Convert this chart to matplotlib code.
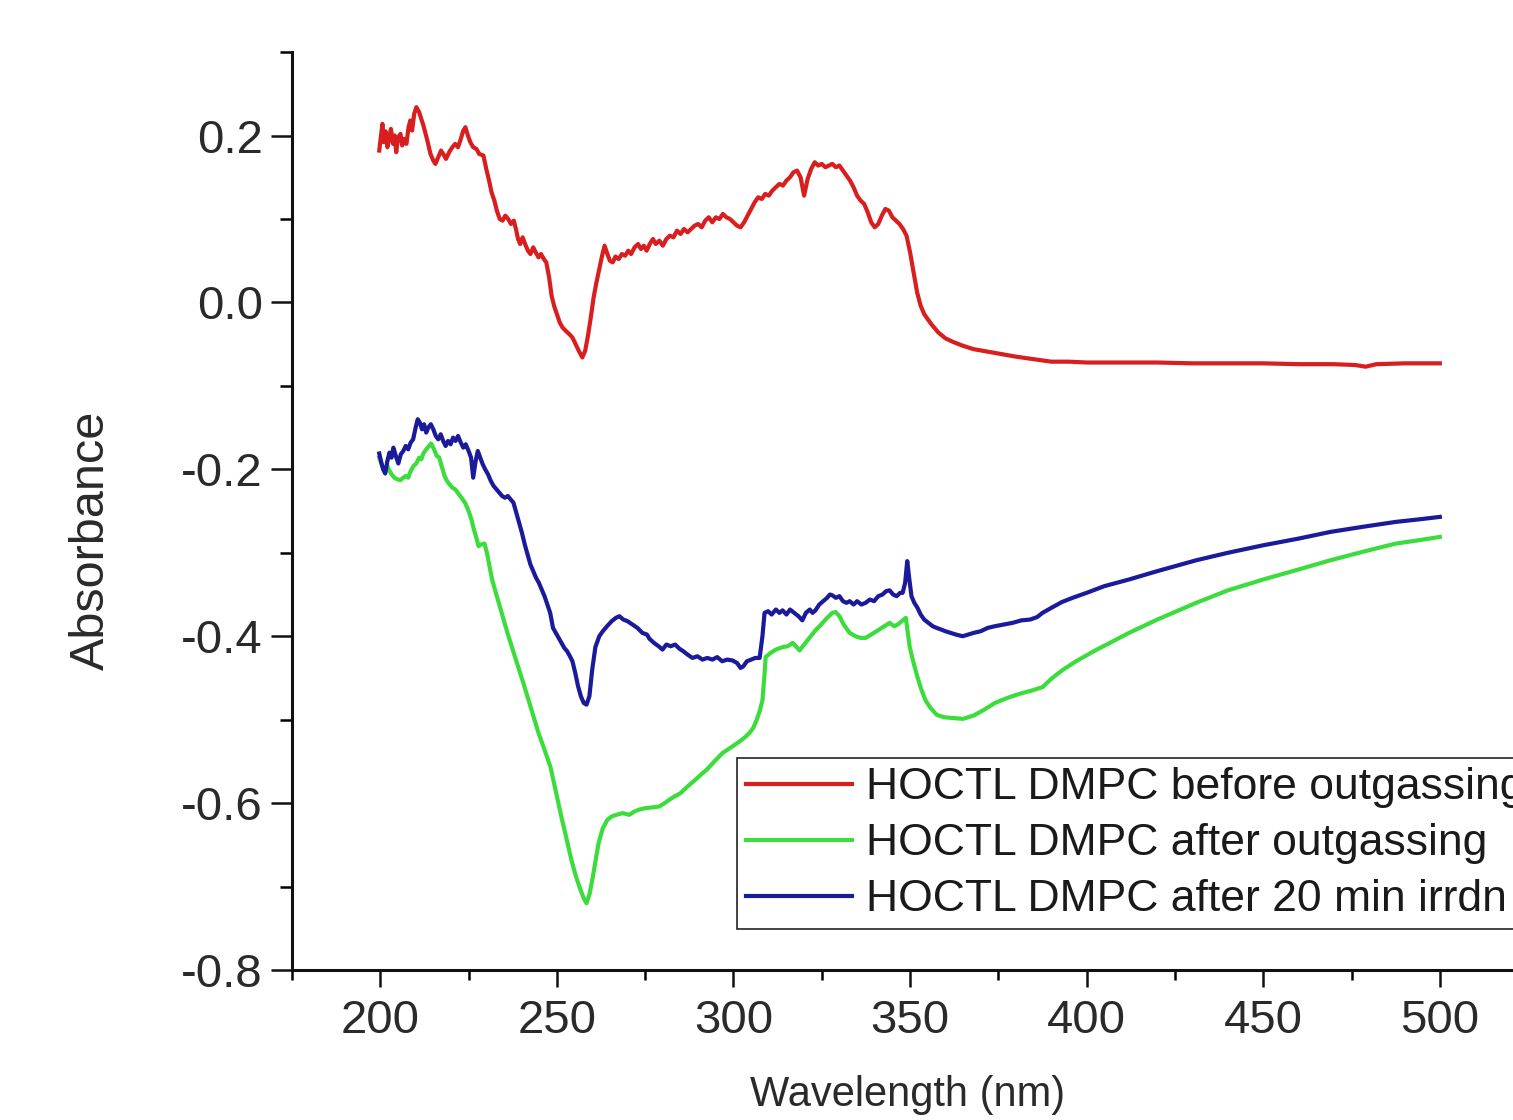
import matplotlib
matplotlib.use("Agg")
import matplotlib.pyplot as plt
from matplotlib.ticker import MultipleLocator

plt.rcParams['font.family'] = ['Liberation Sans', 'DejaVu Sans']

# ---------------- data ----------------
red_wl = [199.7, 200.2, 200.6, 201.0, 201.5, 202.0, 202.5, 203.0, 203.6, 204.1, 204.5, 205.0,
          205.7, 206.2, 206.8, 207.4, 208.0, 208.5, 209.0, 209.6, 210.2, 211.0, 211.6, 212.2,
          213.2, 214.2, 215.0, 215.6, 216.4, 217.2, 217.8, 218.6, 219.5, 220.4, 221.2, 222.0,
          222.8, 223.5, 224.1, 224.8, 225.5, 226.3, 227.2, 228.0, 229.2, 230.0, 230.8, 231.5,
          232.3, 233.0, 233.8, 234.6, 235.4, 236.2, 237.0, 237.8, 238.4, 239.0, 239.6, 240.3,
          241.0, 241.8, 242.5, 243.3, 244.0, 244.8, 245.5, 246.3, 247.0, 247.8, 248.5, 249.2,
          250.0, 250.8, 251.6, 252.5, 253.5, 254.4, 255.3, 256.2, 257.2, 258.0, 258.8, 259.6,
          260.4, 261.2, 262.0, 262.8, 263.5, 264.3, 265.0, 265.8, 266.6, 267.5, 268.4, 269.3,
          270.2, 271.0, 272.0, 273.0, 273.8, 274.6, 275.4, 276.3, 277.2, 278.0, 279.0, 280.0,
          281.0, 282.0, 283.0, 284.0, 285.0, 286.0, 287.0, 288.0, 289.0, 290.0, 291.0, 292.0,
          293.0, 294.0, 295.0, 296.0, 297.0, 298.0, 299.0, 300.0, 301.0, 302.0, 303.0, 304.0,
          305.0, 306.0, 307.0, 308.0, 309.0, 310.0, 311.0, 312.0, 313.0, 314.0, 315.0, 316.0,
          317.0, 318.0, 319.0, 320.0, 321.0, 322.0, 323.0, 324.0, 325.0, 326.0, 327.0, 328.0,
          329.0, 330.0, 331.0, 332.0, 333.0, 334.0, 335.0, 336.0, 337.0, 338.0, 339.0, 340.0,
          341.0, 342.0, 343.0, 344.0, 345.0, 346.0, 347.0, 348.0, 349.0, 350.0, 351.0, 352.0,
          353.0, 354.0, 355.0, 356.0, 358.0, 360.0, 362.0, 365.0, 368.0, 372.0, 376.0, 380.0,
          385.0, 390.0, 395.0, 400.0, 410.0, 420.0, 430.0, 440.0, 450.0, 460.0, 470.0, 476.0,
          479.0, 482.0, 490.0, 500.0]
red_abs = [0.182, 0.200, 0.214, 0.192, 0.205, 0.186, 0.196, 0.208, 0.190, 0.200, 0.180, 0.197,
           0.202, 0.188, 0.196, 0.190, 0.210, 0.218, 0.206, 0.226, 0.234, 0.228, 0.220, 0.212,
           0.196, 0.178, 0.170, 0.166, 0.174, 0.182, 0.178, 0.172, 0.180, 0.186, 0.190, 0.186,
           0.196, 0.206, 0.210, 0.200, 0.192, 0.186, 0.184, 0.178, 0.176, 0.160, 0.146, 0.132,
           0.122, 0.110, 0.100, 0.098, 0.104, 0.100, 0.094, 0.098, 0.088, 0.076, 0.070, 0.078,
           0.070, 0.062, 0.058, 0.066, 0.060, 0.054, 0.058, 0.052, 0.048, 0.030, 0.008, -0.004,
           -0.014, -0.024, -0.030, -0.034, -0.038, -0.042, -0.050, -0.058, -0.066, -0.058, -0.040, -0.018,
           0.006, 0.024, 0.040, 0.056, 0.068, 0.058, 0.050, 0.048, 0.055, 0.052, 0.058, 0.056,
           0.062, 0.058, 0.066, 0.070, 0.064, 0.068, 0.062, 0.070, 0.076, 0.070, 0.074, 0.068,
           0.076, 0.080, 0.078, 0.086, 0.082, 0.088, 0.084, 0.088, 0.092, 0.094, 0.090, 0.098,
           0.102, 0.096, 0.102, 0.100, 0.106, 0.102, 0.100, 0.096, 0.092, 0.090, 0.096, 0.104,
           0.112, 0.120, 0.126, 0.124, 0.130, 0.128, 0.134, 0.138, 0.142, 0.140, 0.146, 0.150,
           0.156, 0.158, 0.150, 0.128, 0.148, 0.160, 0.168, 0.164, 0.166, 0.162, 0.164, 0.166,
           0.162, 0.164, 0.158, 0.152, 0.146, 0.138, 0.128, 0.122, 0.118, 0.108, 0.096, 0.090,
           0.094, 0.104, 0.112, 0.110, 0.102, 0.098, 0.094, 0.088, 0.080, 0.060, 0.036, 0.012,
           -0.004, -0.014, -0.020, -0.026, -0.036, -0.043, -0.047, -0.052, -0.056, -0.059, -0.062, -0.065,
           -0.068, -0.071, -0.071, -0.072, -0.072, -0.072, -0.073, -0.073, -0.073, -0.074, -0.074, -0.075,
           -0.077, -0.074, -0.073, -0.073]

green_wl = [199.7, 200.5, 201.3, 202.0, 202.5, 203.2, 204.0, 204.8, 205.7, 206.5, 207.2, 207.9,
            208.6, 209.4, 210.2, 211.0, 211.6, 212.2, 213.0, 213.8, 214.4, 215.2, 216.0, 216.7,
            217.5, 218.2, 218.9, 219.6, 220.4, 221.2, 222.1, 223.0, 224.1, 225.0, 225.8, 226.5,
            227.2, 227.8, 228.6, 229.5, 230.2, 231.0, 231.7, 233.0, 234.5, 236.0, 238.0, 240.5,
            242.5, 244.8, 246.5, 248.2, 249.8, 251.3, 252.8, 254.1, 255.4, 256.7, 257.6, 258.4,
            259.3, 260.1, 261.0, 261.8, 263.0, 264.3, 265.5, 266.8, 268.6, 270.5, 272.0, 273.1,
            275.0, 277.3, 279.0, 280.5, 282.5, 285.0, 287.0, 289.2, 291.0, 292.4, 294.6, 296.9,
            299.0, 301.1, 303.0, 304.5, 305.6, 306.5, 307.4, 308.2, 308.8, 309.1, 310.5, 312.0,
            313.9, 315.3, 316.8, 318.7, 320.0, 321.5, 323.2, 324.8, 326.5, 328.0, 328.9, 330.0,
            331.2, 332.9, 334.5, 336.0, 337.4, 339.0, 340.5, 342.0, 344.2, 345.5, 346.5, 347.9,
            348.8, 349.9, 351.0, 352.1, 353.2, 354.4, 355.8, 357.5, 359.5, 362.0, 365.0, 368.0,
            371.0, 374.0, 377.5, 381.0, 384.5, 387.5, 390.0, 393.0, 397.0, 402.0, 407.0, 412.0,
            420.0, 431.0, 440.0, 450.0, 460.0, 469.0, 478.0, 487.5, 494.0, 500.0]
green_abs = [-0.186, -0.196, -0.200, -0.196, -0.201, -0.206, -0.210, -0.212, -0.213, -0.210, -0.208, -0.210,
             -0.202, -0.196, -0.193, -0.186, -0.188, -0.181, -0.176, -0.172, -0.169, -0.176, -0.184, -0.186,
             -0.198, -0.208, -0.214, -0.218, -0.222, -0.224, -0.229, -0.234, -0.241, -0.250, -0.260, -0.272,
             -0.282, -0.292, -0.290, -0.289, -0.300, -0.318, -0.333, -0.352, -0.374, -0.396, -0.423, -0.456,
             -0.484, -0.516, -0.536, -0.557, -0.588, -0.617, -0.644, -0.668, -0.688, -0.704, -0.714, -0.720,
             -0.708, -0.690, -0.668, -0.648, -0.630, -0.620, -0.616, -0.614, -0.612, -0.614, -0.610, -0.608,
             -0.606, -0.605, -0.604, -0.600, -0.594, -0.588, -0.580, -0.572, -0.565, -0.560, -0.550, -0.540,
             -0.534, -0.528, -0.522, -0.516, -0.510, -0.501, -0.490, -0.477, -0.445, -0.425, -0.420, -0.416,
             -0.413, -0.412, -0.408, -0.417, -0.410, -0.402, -0.393, -0.386, -0.378, -0.372, -0.371, -0.376,
             -0.386, -0.396, -0.400, -0.402, -0.402, -0.398, -0.394, -0.390, -0.384, -0.388, -0.386, -0.381,
             -0.378, -0.413, -0.432, -0.449, -0.464, -0.477, -0.486, -0.494, -0.497, -0.498, -0.499, -0.495,
             -0.488, -0.480, -0.474, -0.469, -0.465, -0.461, -0.451, -0.441, -0.430, -0.418, -0.407, -0.396,
             -0.380, -0.360, -0.345, -0.332, -0.320, -0.309, -0.299, -0.289, -0.285, -0.281]

blue_wl = [199.7, 200.3, 200.8, 201.4, 202.0, 202.6, 203.2, 203.7, 204.4, 205.1, 205.8, 206.5,
           207.2, 207.9, 208.6, 209.3, 210.0, 210.6, 211.2, 211.8, 212.4, 213.0, 213.6, 214.3,
           215.0, 215.7, 216.4, 217.1, 217.8, 218.5, 219.2, 219.9, 220.6, 221.3, 222.0, 222.8,
           223.5, 224.2, 225.0, 225.7, 226.3, 227.0, 227.6, 228.3, 229.0, 229.7, 230.5, 231.3,
           232.1, 232.9, 233.7, 234.5, 235.3, 236.1, 236.9, 237.7, 238.5, 239.3, 240.1, 240.9,
           241.7, 242.5, 243.3, 244.1, 244.9, 245.7, 246.5, 247.3, 248.1, 248.9, 249.7, 250.5,
           251.3, 252.1, 252.9, 253.7, 254.4, 255.2, 256.0, 256.8, 257.6, 258.4, 259.2, 260.0,
           260.9, 262.0, 263.0, 264.2, 265.5, 266.7, 267.7, 268.8, 270.0, 271.4, 272.8, 274.2,
           275.5, 276.2, 277.5, 278.8, 279.9, 281.0, 282.2, 283.5, 284.7, 285.8, 287.0, 288.4,
           289.8, 291.2, 292.6, 294.0, 295.4, 296.8, 298.2, 299.7, 301.0, 302.0, 302.8, 303.8,
           305.0, 306.2, 307.4, 308.2, 308.8, 309.8, 310.8, 312.0, 313.0, 313.9, 315.0, 316.0,
           317.2, 318.4, 319.5, 320.5, 321.6, 322.4, 323.2, 324.3, 325.4, 326.5, 327.3, 328.0,
           329.0, 330.0, 331.0, 332.0, 332.9, 334.0, 335.0, 336.2, 337.4, 338.6, 339.8, 341.0,
           342.2, 343.2, 344.2, 345.2, 346.2, 347.2, 347.9, 348.6, 349.2, 349.8, 350.4, 351.2,
           352.1, 353.0, 354.0, 355.2, 356.4, 357.5, 358.8, 360.0, 361.5, 363.0, 364.9, 366.5,
           368.0, 370.0, 372.0, 374.0, 376.5, 379.0, 381.5, 384.0, 386.0, 387.5, 390.0, 393.0,
           396.0, 400.0, 405.0, 412.0, 420.0, 431.0, 440.0, 450.0, 460.0, 469.0, 478.0, 487.5,
           494.0, 500.0]
blue_abs = [-0.181, -0.192, -0.200, -0.205, -0.190, -0.180, -0.186, -0.174, -0.184, -0.193, -0.182, -0.178,
            -0.172, -0.176, -0.168, -0.164, -0.150, -0.140, -0.144, -0.152, -0.146, -0.156, -0.150, -0.146,
            -0.152, -0.160, -0.164, -0.158, -0.166, -0.172, -0.166, -0.170, -0.162, -0.166, -0.160, -0.168,
            -0.174, -0.170, -0.178, -0.186, -0.210, -0.190, -0.178, -0.186, -0.194, -0.200, -0.206, -0.214,
            -0.220, -0.224, -0.228, -0.232, -0.234, -0.232, -0.236, -0.240, -0.252, -0.264, -0.276, -0.290,
            -0.302, -0.314, -0.322, -0.330, -0.336, -0.344, -0.352, -0.362, -0.372, -0.390, -0.396, -0.402,
            -0.408, -0.414, -0.418, -0.424, -0.430, -0.444, -0.460, -0.472, -0.480, -0.482, -0.472, -0.440,
            -0.413, -0.400, -0.394, -0.388, -0.382, -0.378, -0.376, -0.380, -0.382, -0.386, -0.390, -0.396,
            -0.398, -0.403, -0.408, -0.412, -0.416, -0.410, -0.412, -0.410, -0.415, -0.418, -0.422, -0.426,
            -0.424, -0.428, -0.426, -0.428, -0.425, -0.430, -0.428, -0.429, -0.432, -0.438, -0.436, -0.430,
            -0.428, -0.426, -0.426, -0.400, -0.372, -0.370, -0.374, -0.368, -0.372, -0.369, -0.374, -0.368,
            -0.372, -0.376, -0.381, -0.372, -0.368, -0.372, -0.369, -0.362, -0.358, -0.354, -0.350, -0.351,
            -0.354, -0.352, -0.358, -0.360, -0.358, -0.362, -0.358, -0.362, -0.360, -0.356, -0.358, -0.352,
            -0.350, -0.346, -0.345, -0.350, -0.352, -0.348, -0.348, -0.336, -0.310, -0.332, -0.352, -0.360,
            -0.366, -0.374, -0.380, -0.384, -0.388, -0.390, -0.392, -0.394, -0.396, -0.398, -0.400, -0.398,
            -0.396, -0.394, -0.390, -0.388, -0.386, -0.384, -0.381, -0.380, -0.377, -0.372, -0.366, -0.359,
            -0.354, -0.348, -0.340, -0.332, -0.322, -0.309, -0.300, -0.291, -0.283, -0.275, -0.269, -0.263,
            -0.260, -0.257]

labels = ["HOCTL DMPC before outgassing",
          "HOCTL DMPC after outgassing",
          "HOCTL DMPC after 20 min irrdn"]

# ---------------- figure ----------------
fig = plt.figure(figsize=(15.13, 11.2), dpi=100)
ax = fig.add_axes([0.193, 0.1339, 0.817, 0.8196])

ax.plot(red_wl, red_abs, color="#d81e1e", lw=3.0, label=labels[0])
ax.plot(green_wl, green_abs, color="#3cdc3c", lw=3.0, label=labels[1])
ax.plot(blue_wl, blue_abs, color="#1a1a9a", lw=3.0, label=labels[2])

ax.set_xlim(175, 525)
ax.set_ylim(-0.8, 0.3)

ax.spines['top'].set_visible(False)
ax.spines['right'].set_visible(False)
for s in ('left', 'bottom'):
    ax.spines[s].set_linewidth(2.2)
    ax.spines[s].set_color('#111111')

ax.xaxis.set_minor_locator(MultipleLocator(25))
ax.yaxis.set_minor_locator(MultipleLocator(0.1))
ax.set_xticks([200, 250, 300, 350, 400, 450, 500])
ax.set_yticks([-0.8, -0.6, -0.4, -0.2, 0.0, 0.2])
ax.set_yticklabels(["-0.8", "-0.6", "-0.4", "-0.2", "0.0", "0.2"])

ax.tick_params(axis='both', which='major', direction='out', width=1.8, colors='#111111',
               labelsize=34, labelcolor='#2a2a2a')
ax.tick_params(axis='y', which='major', length=15, pad=6)
ax.tick_params(axis='y', which='minor', length=9, width=1.8, direction='out')
ax.tick_params(axis='x', which='major', length=12, pad=9)
ax.tick_params(axis='x', which='minor', length=7, width=1.8, direction='out')

ax.set_xlabel("Wavelength (nm)", fontsize=30, color='#2a2a2a')
ax.xaxis.set_label_coords(0.4976, -0.114)
ax.set_ylabel("Absorbance", fontsize=35, color='#2a2a2a')
ax.yaxis.set_label_coords(-0.144, 0.468)

leg = fig.legend(loc='upper left', bbox_to_anchor=(0.487, 0.323), fontsize=32,
                 frameon=True, fancybox=False, edgecolor='#222222', framealpha=1,
                 handlelength=2.4, handletextpad=0.3, borderpad=0.2, labelspacing=0.34,
                 borderaxespad=0)
leg.get_frame().set_linewidth(1.2)
for t in leg.get_texts():
    t.set_color('#1a1a1a')

fig.savefig("out.png", dpi=100)
